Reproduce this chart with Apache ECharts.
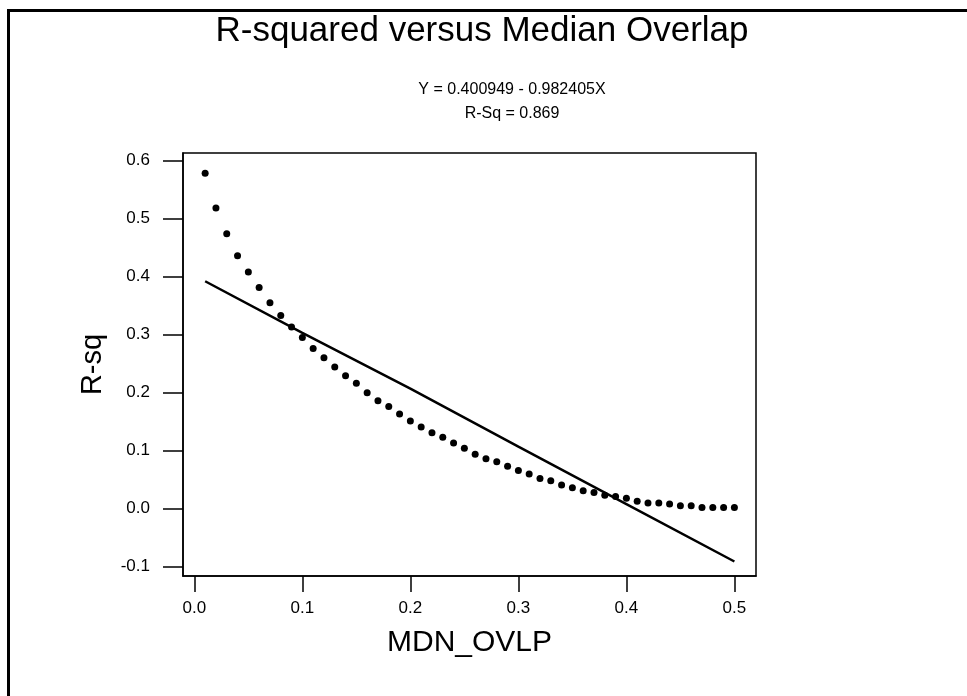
<!DOCTYPE html>
<html>
<head>
<meta charset="utf-8">
<title>R-squared versus Median Overlap</title>
<script src="https://cdn.jsdelivr.net/npm/echarts@6/dist/echarts.min.js"></script>
<style>
  html, body { margin: 0; padding: 0; background: #fff; }
  #main { width: 967px; height: 696px; }
</style>
</head>
<body>
<div id="main"></div>
<script>
// MDN_OVLP values of the dots (0.01 .. 0.50)
const ovlp = [
  0.01, 0.02, 0.03, 0.04, 0.05, 0.06, 0.07, 0.08, 0.09, 0.10,
  0.11, 0.12, 0.13, 0.14, 0.15, 0.16, 0.17, 0.18, 0.19, 0.20,
  0.21, 0.22, 0.23, 0.24, 0.25, 0.26, 0.27, 0.28, 0.29, 0.30,
  0.31, 0.32, 0.33, 0.34, 0.35, 0.36, 0.37, 0.38, 0.39, 0.40,
  0.41, 0.42, 0.43, 0.44, 0.45, 0.46, 0.47, 0.48, 0.49, 0.50
]
// R-sq
const rsq = [
  0.578, 0.518, 0.474, 0.436, 0.408, 0.381, 0.355, 0.333, 0.313, 0.295,
  0.276, 0.260, 0.244, 0.229, 0.216, 0.200, 0.186, 0.176, 0.163, 0.151,
  0.141, 0.131, 0.123, 0.113, 0.104, 0.094, 0.086, 0.081, 0.073, 0.066,
  0.060, 0.052, 0.048, 0.041, 0.036, 0.031, 0.028, 0.023, 0.021, 0.018,
  0.013, 0.010, 0.010, 0.008, 0.005, 0.005, 0.002, 0.002, 0.002, 0.002
]
// fitted line, read at a few x positions
const fitX = [0.01, 0.10, 0.20, 0.30, 0.40, 0.50]
const fitY = [0.392, 0.303, 0.207, 0.107, 0.008, -0.091]

const xTicks = [0.0, 0.1, 0.2, 0.3, 0.4, 0.5]
const yTicks = [-0.1, 0.0, 0.1, 0.2, 0.3, 0.4, 0.5, 0.6]

const titleText = 'R-squared versus Median Overlap'
const eqText = 'Y = 0.400949 - 0.982405X\nR-Sq = 0.869'

const font = 'Liberation Sans, Arial, sans-serif'

const chart = echarts.init(document.getElementById('main'))

const option = {
  animation: false,
  backgroundColor: '#fff',
  textStyle: { fontFamily: font, color: '#000' },
  title: [
    {
      text: titleText,
      left: 477,
      top: 9,
      textAlign: 'center',
      textStyle: { fontFamily: font, fontSize: 35, fontWeight: 'normal', color: '#000' }
    },
    {
      text: eqText,
      left: 507,
      top: 73,
      textAlign: 'center',
      textStyle: { fontFamily: font, fontSize: 16, fontWeight: 'normal', color: '#000', lineHeight: 24 }
    }
  ],
  graphic: [
    {
      type: 'rect',
      shape: { x: 8.5, y: 10.5, width: 1000, height: 800 },
      style: { fill: 'none', stroke: '#000', lineWidth: 3 },
      silent: true
    }
  ],
  grid: {
    left: 183,
    top: 153,
    right: 211,
    bottom: 120,
    show: true,
    borderColor: '#000',
    borderWidth: 1.5
  },
  xAxis: {
    type: 'value',
    min: -0.0105,
    max: 0.52,
    name: 'MDN_OVLP',
    nameLocation: 'middle',
    nameGap: 52,
    nameTextStyle: { fontFamily: font, fontSize: 30, color: '#000' },
    axisLine: { show: true, onZero: false, lineStyle: { color: '#000', width: 1.5 } },
    axisTick: { show: true, length: 16, customValues: xTicks, lineStyle: { color: '#000', width: 1.5 } },
    axisLabel: {
      customValues: xTicks,
      margin: 24,
      fontFamily: font,
      fontSize: 17,
      color: '#000',
      formatter: (v) => v.toFixed(1)
    },
    splitLine: { show: false }
  },
  yAxis: {
    type: 'value',
    min: -0.116,
    max: 0.613,
    name: 'R-sq',
    nameLocation: 'middle',
    nameGap: 76,
    nameTextStyle: { fontFamily: font, fontSize: 29, color: '#000' },
    axisLine: { show: true, onZero: false, lineStyle: { color: '#000', width: 1.5 } },
    axisTick: { show: true, length: 20, customValues: yTicks, lineStyle: { color: '#000', width: 1.5 } },
    axisLabel: {
      customValues: yTicks,
      margin: 33,
      fontFamily: font,
      fontSize: 17,
      color: '#000',
      formatter: (v) => v.toFixed(1)
    },
    splitLine: { show: false }
  },
  series: [
    {
      name: 'R-sq',
      type: 'scatter',
      symbol: 'circle',
      symbolSize: 7,
      itemStyle: { color: '#000', opacity: 1 },
      data: ovlp.map((x, i) => [x, rsq[i]])
    },
    {
      name: 'Fit',
      type: 'line',
      showSymbol: false,
      symbol: 'none',
      lineStyle: { color: '#000', width: 2.5 },
      data: fitX.map((x, i) => [x, fitY[i]])
    }
  ]
}

chart.setOption(option)
</script>
</body>
</html>
